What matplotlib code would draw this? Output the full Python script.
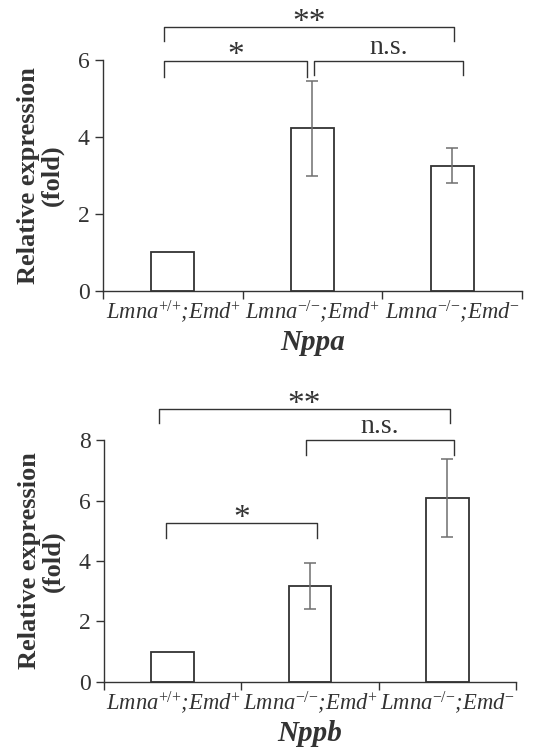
import numpy as np
import matplotlib
matplotlib.use('Agg')
import matplotlib.pyplot as plt

plt.rcParams['font.family'] = 'Liberation Serif'
plt.rcParams['mathtext.fontset'] = 'custom'
plt.rcParams['mathtext.rm'] = 'Liberation Serif'
plt.rcParams['mathtext.it'] = 'Liberation Serif:italic'
plt.rcParams['mathtext.bf'] = 'Liberation Serif:bold'

# data
groups = ['Lmna$^{{+}/{+}}$;Emd$^{+}$', 'Lmna$^{{-}/{-}}$;Emd$^{+}$', 'Lmna$^{{-}/{-}}$;Emd$^{-}$']
nppa_mean = [1.0, 4.22, 3.25]
nppa_err = [0.0, 1.23, 0.45]
nppb_mean = [1.0, 3.17, 6.09]
nppb_err = [0.0, 0.77, 1.29]

# brackets: (x1, x2, y of bar, y of tick ends, label)
nppa_sig = [(-0.06, 2.01, 6.84, 6.48, '**'),
            (-0.06, 0.96, 5.97, 5.56, '*'),
            (1.01, 2.08, 5.97, 5.61, 'n.s.')]
nppb_sig = [(-0.10, 2.02, 9.03, 8.56, '**'),
            (0.97, 2.05, 8.0, 7.5, 'n.s.'),
            (-0.05, 1.05, 5.24, 4.75, '*')]

ink = '#333333'


def panel(ax, mean, err, sig, ymax, gene):
    x = np.arange(len(mean))
    ax.bar(x, mean, width=0.31, color='white', edgecolor=ink, linewidth=1.3, zorder=2)
    ax.errorbar(x[1:], mean[1:], yerr=err[1:], fmt='none', ecolor='#6f6f6f',
                elinewidth=1.1, capsize=4, capthick=1.1, zorder=3)
    for x1, x2, y, yt, lab in sig:
        ax.plot([x1, x1, x2, x2], [yt, y, y, yt], color=ink, lw=1.0, clip_on=False)
        if lab == 'n.s.':
            ax.text((x1 + x2) / 2, y + ymax * 0.005, lab, ha='center', va='bottom',
                    fontsize=20, color=ink)
        else:
            ax.text((x1 + x2) / 2, y - ymax * 0.045, lab, ha='center', va='bottom',
                    fontsize=24, color=ink)
    ax.set_xlim(-0.5, 2.5)
    ax.set_ylim(0, ymax)
    ax.set_yticks(np.arange(0, ymax + 1, 2))
    ax.set_xticks(x)
    ax.set_xticklabels(groups, fontsize=16.3, color=ink, style='italic')
    ax.tick_params(axis='x', which='major', length=0, pad=5)
    ax.set_xticks([-0.5, 0.5, 1.5, 2.5], minor=True)
    ax.tick_params(axis='x', which='minor', length=6, direction='out', color=ink, width=1)
    ax.tick_params(axis='y', length=6, width=1, color=ink, labelsize=17, labelcolor=ink)
    for s in ['top', 'right']:
        ax.spines[s].set_visible(False)
    for s in ['left', 'bottom']:
        ax.spines[s].set_color(ink)
        ax.spines[s].set_linewidth(1.0)
    ax.set_ylabel('Relative expression\n(fold)', fontsize=19, fontweight='bold',
                  color=ink, linespacing=1.05, labelpad=10)
    ax.set_xlabel(gene, fontsize=21, fontweight='bold', style='italic', color=ink, labelpad=3)


fig = plt.figure(figsize=(5.59, 7.48), dpi=100)
ax1 = fig.add_axes([0.184, 0.611, 0.75, 0.309])
ax2 = fig.add_axes([0.186, 0.0886, 0.737, 0.323])
panel(ax1, nppa_mean, nppa_err, nppa_sig, 6, 'Nppa')
panel(ax2, nppb_mean, nppb_err, nppb_sig, 8, 'Nppb')

plt.savefig('out.png', dpi=100)
